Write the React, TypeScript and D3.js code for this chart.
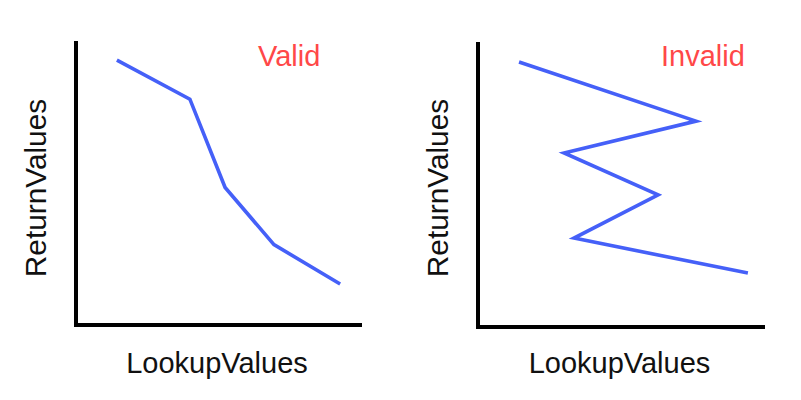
import React from "react";
import * as d3 from "d3";

const validX = [1.44, 4.01, 5.25, 6.97, 9.3];
const validY = [9.36, 7.98, 4.86, 2.84, 1.45];
const invalidX = [1.44, 7.65, 3.02, 6.32, 3.37, 9.47];
const invalidY = [9.33, 7.25, 6.13, 4.65, 3.13, 1.9];
const titles = ["Valid", "Invalid"];
const xLabel = "LookupValues";
const yLabel = "ReturnValues";

const FONT = "'Liberation Sans', Arial, sans-serif";

type PanelProps = {
  xs: number[];
  ys: number[];
  title: string;
  x0: number;
  x1: number;
  y0: number;
  y1: number;
  titleX: number;
};

function Panel({ xs, ys, title, x0, x1, y0, y1, titleX }: PanelProps) {
  const x = d3.scaleLinear().domain([0, 10]).range([x0, x1]);
  const y = d3.scaleLinear().domain([0, 10]).range([y0, y1]);
  const pts: [number, number][] = xs.map((v, i) => [v, ys[i]]);
  const line = d3
    .line<[number, number]>()
    .x((d) => x(d[0]))
    .y((d) => y(d[1]));
  const cx = (x0 + x1) / 2 - 1;
  const cy = 188;
  return (
    <g>
      <path d={line(pts) || ""} fill="none" stroke="#4560f8" strokeWidth={3.6} strokeLinejoin="miter" />
      <line x1={x0} y1={y1 - 1} x2={x0} y2={y0 + 2} stroke="#000" strokeWidth={4} />
      <line x1={x0 - 2} y1={y0} x2={x1 + 2} y2={y0} stroke="#000" strokeWidth={4} />
      <text x={titleX} y={66} fill="#ff4848" fontSize={29} fontFamily={FONT}>
        {title}
      </text>
      <text x={cx} y={373} textAnchor="middle" fill="#111" fontSize={29} fontFamily={FONT}>
        {xLabel}
      </text>
      <text
        transform={`translate(${x0 - 30},${cy}) rotate(-90)`}
        textAnchor="middle"
        fill="#111"
        fontSize={29.8}
        fontFamily={FONT}
      >
        {yLabel}
      </text>
    </g>
  );
}

export default function App() {
  return (
    <svg width={801} height={400} style={{ position: "absolute", left: 0, top: 0, background: "#fff" }}>
      <rect width={801} height={400} fill="#fff" />
      <Panel xs={validX} ys={validY} title={titles[0]} x0={76} x1={360} y0={325} y1={42} titleX={258} />
      <Panel xs={invalidX} ys={invalidY} title={titles[1]} x0={478} x1={763} y0={327} y1={43} titleX={661} />
    </svg>
  );
}
